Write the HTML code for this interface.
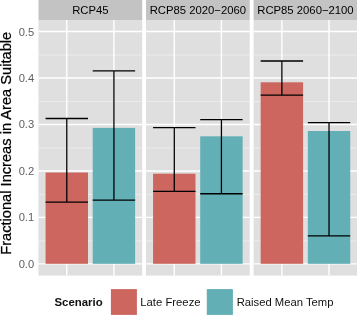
<!DOCTYPE html>
<html><head><meta charset="utf-8"><title>chart</title>
<style>
html,body{margin:0;padding:0;background:#fff;}
body{width:357px;height:320px;overflow:hidden;font-family:"Liberation Sans",sans-serif;}
svg{display:block;font-family:"Liberation Sans",sans-serif;}
svg{will-change:transform;}
</style></head><body>
<svg width="357" height="320" viewBox="0 0 357 320">
<rect width="357" height="320" fill="#fff"/>
<rect x="38.5" y="0" width="103.70" height="20" fill="#C3C3C3"/>
<rect x="38.5" y="20" width="103.70" height="255.60" fill="#DFDFDF"/>
<line x1="38.5" x2="142.2" y1="240.86" y2="240.86" stroke="#F0F0F0" stroke-width="0.8"/>
<line x1="38.5" x2="142.2" y1="194.38" y2="194.38" stroke="#F0F0F0" stroke-width="0.8"/>
<line x1="38.5" x2="142.2" y1="147.90" y2="147.90" stroke="#F0F0F0" stroke-width="0.8"/>
<line x1="38.5" x2="142.2" y1="101.42" y2="101.42" stroke="#F0F0F0" stroke-width="0.8"/>
<line x1="38.5" x2="142.2" y1="54.94" y2="54.94" stroke="#F0F0F0" stroke-width="0.8"/>
<line x1="38.5" x2="142.2" y1="263.90" y2="263.90" stroke="#FFFFFF" stroke-width="1.4"/>
<line x1="38.5" x2="142.2" y1="217.42" y2="217.42" stroke="#FFFFFF" stroke-width="1.4"/>
<line x1="38.5" x2="142.2" y1="170.94" y2="170.94" stroke="#FFFFFF" stroke-width="1.4"/>
<line x1="38.5" x2="142.2" y1="124.46" y2="124.46" stroke="#FFFFFF" stroke-width="1.4"/>
<line x1="38.5" x2="142.2" y1="77.98" y2="77.98" stroke="#FFFFFF" stroke-width="1.4"/>
<line x1="38.5" x2="142.2" y1="31.50" y2="31.50" stroke="#FFFFFF" stroke-width="1.4"/>
<line x1="66.78" x2="66.78" y1="20" y2="275.6" stroke="#FFFFFF" stroke-width="1.4"/>
<line x1="113.92" x2="113.92" y1="20" y2="275.6" stroke="#FFFFFF" stroke-width="1.4"/>
<text x="90.35" y="14.3" font-size="11.3" fill="#000" text-anchor="middle">RCP45</text>
<rect x="146.0" y="0" width="103.70" height="20" fill="#C3C3C3"/>
<rect x="146.0" y="20" width="103.70" height="255.60" fill="#DFDFDF"/>
<line x1="146.0" x2="249.7" y1="240.86" y2="240.86" stroke="#F0F0F0" stroke-width="0.8"/>
<line x1="146.0" x2="249.7" y1="194.38" y2="194.38" stroke="#F0F0F0" stroke-width="0.8"/>
<line x1="146.0" x2="249.7" y1="147.90" y2="147.90" stroke="#F0F0F0" stroke-width="0.8"/>
<line x1="146.0" x2="249.7" y1="101.42" y2="101.42" stroke="#F0F0F0" stroke-width="0.8"/>
<line x1="146.0" x2="249.7" y1="54.94" y2="54.94" stroke="#F0F0F0" stroke-width="0.8"/>
<line x1="146.0" x2="249.7" y1="263.90" y2="263.90" stroke="#FFFFFF" stroke-width="1.4"/>
<line x1="146.0" x2="249.7" y1="217.42" y2="217.42" stroke="#FFFFFF" stroke-width="1.4"/>
<line x1="146.0" x2="249.7" y1="170.94" y2="170.94" stroke="#FFFFFF" stroke-width="1.4"/>
<line x1="146.0" x2="249.7" y1="124.46" y2="124.46" stroke="#FFFFFF" stroke-width="1.4"/>
<line x1="146.0" x2="249.7" y1="77.98" y2="77.98" stroke="#FFFFFF" stroke-width="1.4"/>
<line x1="146.0" x2="249.7" y1="31.50" y2="31.50" stroke="#FFFFFF" stroke-width="1.4"/>
<line x1="174.28" x2="174.28" y1="20" y2="275.6" stroke="#FFFFFF" stroke-width="1.4"/>
<line x1="221.42" x2="221.42" y1="20" y2="275.6" stroke="#FFFFFF" stroke-width="1.4"/>
<text x="197.85" y="14.3" font-size="11.3" fill="#000" text-anchor="middle">RCP85 2020−2060</text>
<rect x="253.6" y="0" width="103.70" height="20" fill="#C3C3C3"/>
<rect x="253.6" y="20" width="103.70" height="255.60" fill="#DFDFDF"/>
<line x1="253.6" x2="357.3" y1="240.86" y2="240.86" stroke="#F0F0F0" stroke-width="0.8"/>
<line x1="253.6" x2="357.3" y1="194.38" y2="194.38" stroke="#F0F0F0" stroke-width="0.8"/>
<line x1="253.6" x2="357.3" y1="147.90" y2="147.90" stroke="#F0F0F0" stroke-width="0.8"/>
<line x1="253.6" x2="357.3" y1="101.42" y2="101.42" stroke="#F0F0F0" stroke-width="0.8"/>
<line x1="253.6" x2="357.3" y1="54.94" y2="54.94" stroke="#F0F0F0" stroke-width="0.8"/>
<line x1="253.6" x2="357.3" y1="263.90" y2="263.90" stroke="#FFFFFF" stroke-width="1.4"/>
<line x1="253.6" x2="357.3" y1="217.42" y2="217.42" stroke="#FFFFFF" stroke-width="1.4"/>
<line x1="253.6" x2="357.3" y1="170.94" y2="170.94" stroke="#FFFFFF" stroke-width="1.4"/>
<line x1="253.6" x2="357.3" y1="124.46" y2="124.46" stroke="#FFFFFF" stroke-width="1.4"/>
<line x1="253.6" x2="357.3" y1="77.98" y2="77.98" stroke="#FFFFFF" stroke-width="1.4"/>
<line x1="253.6" x2="357.3" y1="31.50" y2="31.50" stroke="#FFFFFF" stroke-width="1.4"/>
<line x1="281.88" x2="281.88" y1="20" y2="275.6" stroke="#FFFFFF" stroke-width="1.4"/>
<line x1="329.02" x2="329.02" y1="20" y2="275.6" stroke="#FFFFFF" stroke-width="1.4"/>
<text x="305.45" y="14.3" font-size="11.3" fill="#000" text-anchor="middle">RCP85 2060−2100</text>
<rect x="45.57" y="172.5" width="42.42" height="91.30" fill="#CC665F"/>
<path d="M45.57 118.5H87.99M66.78 118.5V202.2M45.57 202.2H87.99" stroke="#000" stroke-width="1.3" fill="none"/>
<rect x="92.71" y="127.9" width="42.42" height="135.90" fill="#62AFB6"/>
<path d="M92.71 70.8H135.13M113.92 70.8V200.2M92.71 200.2H135.13" stroke="#000" stroke-width="1.3" fill="none"/>
<rect x="153.07" y="173.7" width="42.42" height="90.10" fill="#CC665F"/>
<path d="M153.07 127.6H195.49M174.28 127.6V191.3M153.07 191.3H195.49" stroke="#000" stroke-width="1.3" fill="none"/>
<rect x="200.21" y="136.3" width="42.42" height="127.50" fill="#62AFB6"/>
<path d="M200.21 119.7H242.63M221.42 119.7V193.75M200.21 193.75H242.63" stroke="#000" stroke-width="1.3" fill="none"/>
<rect x="260.67" y="82.3" width="42.42" height="181.50" fill="#CC665F"/>
<path d="M260.67 61.0H303.09M281.88 61.0V95.2M260.67 95.2H303.09" stroke="#000" stroke-width="1.3" fill="none"/>
<rect x="307.81" y="131.0" width="42.42" height="132.80" fill="#62AFB6"/>
<path d="M307.81 122.6H350.23M329.02 122.6V235.9M307.81 235.9H350.23" stroke="#000" stroke-width="1.3" fill="none"/>
<text x="34.2" y="267.90" font-size="11.2" fill="#606060" text-anchor="end">0.0</text>
<text x="34.2" y="221.42" font-size="11.2" fill="#606060" text-anchor="end">0.1</text>
<text x="34.2" y="174.94" font-size="11.2" fill="#606060" text-anchor="end">0.2</text>
<text x="34.2" y="128.46" font-size="11.2" fill="#606060" text-anchor="end">0.3</text>
<text x="34.2" y="81.98" font-size="11.2" fill="#606060" text-anchor="end">0.4</text>
<text x="34.2" y="35.50" font-size="11.2" fill="#606060" text-anchor="end">0.5</text>
<text transform="translate(11.3,143.3) rotate(-90)" font-size="14.65" fill="#000" stroke="#000" stroke-width="0.25" text-anchor="middle">Fractional Increas in Area Suitable</text>
<text x="54.5" y="306.0" font-size="11.4" font-weight="bold" fill="#111">Scenario</text>
<rect x="110.9" y="289.1" width="26" height="25.8" fill="#CC665F"/>
<text x="140.3" y="306.1" font-size="11.3" fill="#111">Late Freeze</text>
<rect x="206.8" y="289.1" width="26.1" height="25.8" fill="#62AFB6"/>
<text x="236.7" y="306.1" font-size="11.25" fill="#111">Raised Mean Temp</text>
</svg>
</body></html>
